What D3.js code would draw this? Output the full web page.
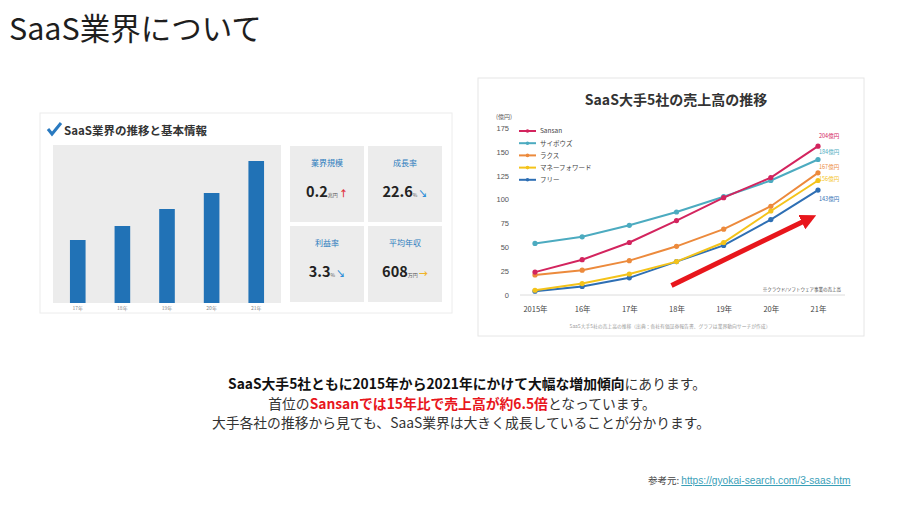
<!DOCTYPE html>
<html>
<head>
<meta charset="utf-8">
<script src="https://cdn.jsdelivr.net/npm/d3@7"></script>
<style>
  body { margin: 0; background: #fff; }
  svg { display: block; font-family: "Noto Sans CJK JP", "Noto Sans", sans-serif; }
</style>
</head>
<body>
<div id="slide"></div>
<script>
// left panel: industry bar chart (relative heights, no axis in the original)
const marketYears = ["17年", "18年", "19年", "20年", "21年"];
const marketValues = [63, 77, 94, 110, 142];

const stats = [
  { label: "業界規模", value: "0.2", unit: "兆円", mark: "↑" },
  { label: "成長率", value: "22.6", unit: "%", mark: "↘" },
  { label: "利益率", value: "3.3", unit: "%", mark: "↘" },
  { label: "平均年収", value: "608", unit: "万円", mark: "→" }
];

// right panel: revenue of the 5 big SaaS companies (億円)
const years = ["2015年", "16年", "17年", "18年", "19年", "20年", "21年"];
const companies = ["Sansan", "サイボウズ", "ラクス", "マネーフォワード", "フリー"];
const sansan = [24, 37, 55, 78, 102, 123, 156];
const cybozu = [54, 61, 73, 87, 103, 120, 142];
const rakus = [21, 26, 36, 51, 69, 93, 128];
const moneyForward = [5, 12, 22, 35, 55, 88, 120];
const freee = [4, 9, 18, 35, 52, 79, 110];
const endLabels = ["204億円", "184億円", "167億円", "156億円", "143億円"];
const yTicks = [0, 25, 50, 75, 100, 125, 150, 175];

const W = 904, H = 508;
const svg = d3.select("#slide").append("svg").attr("width", W).attr("height", H);
svg.append("rect").attr("width", W).attr("height", H).attr("fill", "#fff");

svg.append("text")
  .attr("x", 9).attr("y", 40)
  .attr("font-size", 30.5).attr("fill", "#1e1e1e")
  .text("SaaS業界について");

// ---------- left card ----------
const left = svg.append("g");
left.append("rect")
  .attr("x", 40).attr("y", 113).attr("width", 412).attr("height", 200)
  .attr("fill", "#fff").attr("stroke", "#ececec");

left.append("path")
  .attr("d", "M48,129 L52,134 L61,123")
  .attr("fill", "none").attr("stroke", "#2a7ac0").attr("stroke-width", 3);
left.append("text")
  .attr("x", 64).attr("y", 135)
  .attr("font-size", 11.5).attr("font-weight", "bold").attr("fill", "#333")
  .text("SaaS業界の推移と基本情報");

left.append("rect")
  .attr("x", 53).attr("y", 145).attr("width", 228).attr("height", 158)
  .attr("fill", "#ececec");

const bx = d3.scaleBand().domain(marketYears).range([53, 281]).paddingInner(0.65).paddingOuter(0.38);
const by = d3.scaleLinear().domain([0, 158]).range([303, 145]);

left.selectAll(".mbar").data(marketValues).enter().append("rect")
  .attr("class", "mbar")
  .attr("x", (d, i) => bx(marketYears[i]))
  .attr("y", d => by(d))
  .attr("width", bx.bandwidth())
  .attr("height", d => by(0) - by(d))
  .attr("fill", "#2172b6");

left.selectAll(".mlab").data(marketYears).enter().append("text")
  .attr("x", d => bx(d) + bx.bandwidth() / 2)
  .attr("y", 310)
  .attr("text-anchor", "middle")
  .attr("font-size", 5).attr("fill", "#888")
  .text(d => d);

const markColors = { "↑": "#e0303a", "↘": "#2f8fd8", "→": "#f0b429" };
stats.forEach((s, i) => {
  const tx = 290 + (i % 2) * 78;
  const ty = 146 + Math.floor(i / 2) * 80;
  const g = left.append("g").attr("transform", `translate(${tx},${ty})`);
  g.append("rect").attr("width", 74).attr("height", 76).attr("fill", "#ececec");
  g.append("text")
    .attr("x", 37).attr("y", 20).attr("text-anchor", "middle")
    .attr("font-size", 8).attr("fill", "#2b7bbd")
    .text(s.label);
  const t = g.append("text")
    .attr("x", 37).attr("y", 51).attr("text-anchor", "middle")
    .attr("fill", "#222");
  t.append("tspan").attr("font-size", 14.5).attr("font-weight", "bold").text(s.value);
  t.append("tspan").attr("font-size", 5).attr("fill", "#555").text(s.unit + " ");
  t.append("tspan").attr("font-size", 9).attr("font-weight", "bold")
    .attr("fill", markColors[s.mark]).text(s.mark);
});

// ---------- right card ----------
const right = svg.append("g");
right.append("rect")
  .attr("x", 478).attr("y", 78).attr("width", 386).attr("height", 258)
  .attr("fill", "#fff").attr("stroke", "#e6e6e6");

right.append("text")
  .attr("x", 676).attr("y", 105).attr("text-anchor", "middle")
  .attr("font-size", 14).attr("font-weight", "bold").attr("fill", "#333")
  .text("SaaS大手5社の売上高の推移");

right.append("text")
  .attr("x", 496).attr("y", 119)
  .attr("font-size", 6).attr("fill", "#555")
  .text("(億円)");

const x = d3.scalePoint().domain(years).range([535, 818]);
const y = d3.scaleLinear().domain([0, 175]).range([295, 128]);

right.append("g")
  .attr("transform", "translate(509,0)")
  .call(d3.axisLeft(y).tickValues(yTicks).tickSize(0).tickPadding(0))
  .call(g => g.select(".domain").remove())
  .call(g => g.selectAll("text").attr("font-size", 7.5).attr("fill", "#555")
    .attr("font-family", "Liberation Sans, sans-serif"));

right.append("line")
  .attr("x1", 520).attr("x2", 845).attr("y1", y(0)).attr("y2", y(0))
  .attr("stroke", "#dcdcdc");

right.append("g")
  .attr("transform", `translate(0,${y(0) + 9})`)
  .call(d3.axisBottom(x).tickSize(0).tickPadding(3))
  .call(g => g.select(".domain").remove())
  .call(g => g.selectAll("text").attr("font-size", 7.5).attr("fill", "#444")
    .attr("font-family", "Noto Sans CJK JP, sans-serif"));

const colors = ["#d3245e", "#4cabc0", "#ec8a3c", "#f4c31a", "#2e6fb4"];
const series = [sansan, cybozu, rakus, moneyForward, freee];
const labelOffsets = [-8, -5, -4, 1, 11];

// red trend arrow
const defs = svg.append("defs");
defs.append("marker")
  .attr("id", "head").attr("viewBox", "0 0 10 10")
  .attr("refX", 5).attr("refY", 5)
  .attr("markerWidth", 3.2).attr("markerHeight", 3.2)
  .attr("orient", "auto")
  .append("path").attr("d", "M0,0 L10,5 L0,10 Z").attr("fill", "#e8161c");

const arrowPts = [["18年", 10], ["21年", 80]];
right.append("line")
  .attr("x1", x(arrowPts[0][0]) - 5).attr("y1", y(arrowPts[0][1]))
  .attr("x2", x(arrowPts[1][0]) - 9).attr("y2", y(arrowPts[1][1]))
  .attr("stroke", "#e8161c").attr("stroke-width", 5)
  .attr("marker-end", "url(#head)");

const line = d3.line().x((d, i) => x(years[i])).y(d => y(d));
// draw bottom series first so Sansan sits on top
series.slice().reverse().forEach((vals, r) => {
  const k = series.length - 1 - r;
  right.append("path")
    .attr("d", line(vals))
    .attr("fill", "none").attr("stroke", colors[k]).attr("stroke-width", 2);
  right.selectAll(".pt" + k).data(vals).enter().append("circle")
    .attr("cx", (d, i) => x(years[i])).attr("cy", d => y(d))
    .attr("r", 2.6).attr("fill", colors[k]);
});

series.forEach((vals, k) => {
  right.append("text")
    .attr("x", x(years[years.length - 1]) + 1)
    .attr("y", y(vals[vals.length - 1]) + labelOffsets[k])
    .attr("font-size", 5.5).attr("fill", colors[k])
    .text(endLabels[k]);
});

// legend
companies.forEach((c, k) => {
  const ly = 131 + k * 12.2;
  right.append("line")
    .attr("x1", 519).attr("x2", 536).attr("y1", ly).attr("y2", ly)
    .attr("stroke", colors[k]).attr("stroke-width", 2);
  right.append("circle").attr("cx", 527.5).attr("cy", ly).attr("r", 1.8).attr("fill", colors[k]);
  right.append("text")
    .attr("x", 540).attr("y", ly + 2.3)
    .attr("font-size", 6.5).attr("fill", "#444")
    .text(c);
});

right.append("text")
  .attr("x", 841).attr("y", 291).attr("text-anchor", "end")
  .attr("font-size", 4.5).attr("fill", "#444")
  .text("※クラウド/ソフトウェア事業の売上高");

right.append("text")
  .attr("x", 670).attr("y", 328).attr("text-anchor", "middle")
  .attr("font-size", 4.8).attr("fill", "#999")
  .text("SaaS大手5社の売上高の推移（出典：各社有価証券報告書、グラフは業界動向サーチが作成）");

// ---------- body text ----------
const body = svg.append("g").attr("font-size", 13.8).attr("text-anchor", "middle");
const l1 = body.append("text").attr("x", 467).attr("y", 389).attr("fill", "#111");
l1.append("tspan").attr("font-weight", "bold").text("SaaS大手5社ともに2015年から2021年にかけて大幅な増加傾向");
l1.append("tspan").attr("fill", "#333").text("にあります。");

const l2 = body.append("text").attr("x", 462).attr("y", 409).attr("fill", "#333");
l2.append("tspan").text("首位の");
l2.append("tspan").attr("font-weight", "bold").attr("fill", "#e8161c").text("Sansanでは15年比で売上高が約6.5倍");
l2.append("tspan").text("となっています。");

body.append("text").attr("x", 461).attr("y", 428).attr("fill", "#333")
  .text("大手各社の推移から見ても、SaaS業界は大きく成長していることが分かります。");

const ref = svg.append("text").attr("x", 648).attr("y", 484).attr("font-size", 9.5);
ref.append("tspan").attr("fill", "#444").text("参考元: ");
ref.append("tspan").attr("fill", "#3aa0b8").attr("text-decoration", "underline")
  .attr("font-family", "Liberation Sans, sans-serif").attr("font-size", 10.2)
  .text("https://gyokai-search.com/3-saas.htm");
</script>
</body>
</html>
